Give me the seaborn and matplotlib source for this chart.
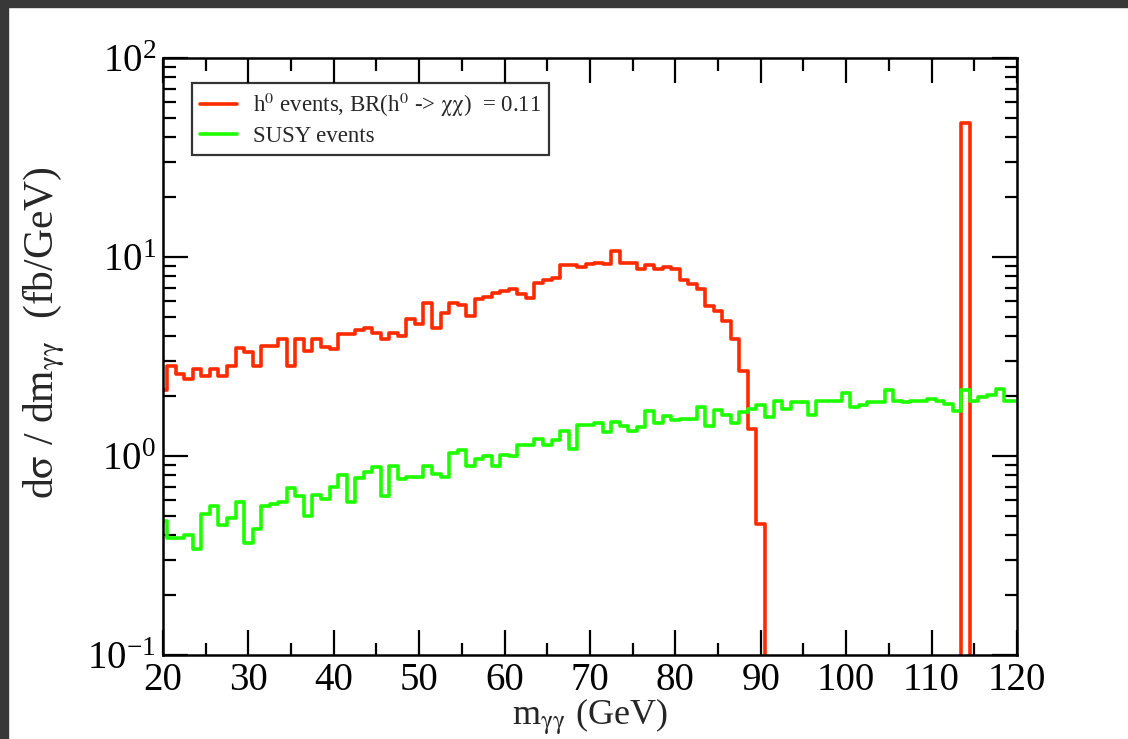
import matplotlib
matplotlib.use("Agg")
import matplotlib.pyplot as plt
from matplotlib.patches import Rectangle
from matplotlib.ticker import LogLocator, MultipleLocator, LogFormatterMathtext, NullFormatter
import seaborn as sns
import pandas as pd

# ---- data (bin centres in GeV, 1 GeV bins) ----
mass = list(range(20, 121))

higgs_events = [
    2.14,
    2.84, 2.58, 2.44, 2.75, 2.53, 2.75, 2.53, 2.84, 3.49, 3.32,
    2.84, 3.58, 3.58, 3.87, 2.84, 3.87, 3.38, 3.87, 3.54, 3.45,
    4.10, 4.10, 4.29, 4.39, 4.17, 3.87, 4.17, 4.02, 4.87, 4.60,
    5.90, 4.39, 5.26, 5.86, 5.73, 5.06, 6.14, 6.30, 6.62, 6.75,
    6.89, 6.50, 6.21, 7.43, 7.64, 7.87, 9.12, 9.12, 8.91, 9.19,
    9.37, 9.19, 10.7, 9.37, 9.37, 8.67, 9.12, 8.67, 8.91, 8.67,
    7.64, 7.30, 6.89, 5.68, 5.36, 4.78, 3.87, 2.68, 1.37, 0.457,
    0.001, 0.001, 0.001, 0.001, 0.001, 0.001, 0.001, 0.001, 0.001, 0.001,
    0.001, 0.001, 0.001, 0.001, 0.001, 0.001, 0.001, 0.001, 0.001, 0.001,
    0.001, 0.001, 0.001, 47.0, 0.001, 0.001, 0.001, 0.001, 0.001, 0.001,
]

susy_events = [
    0.471,
    0.388, 0.388, 0.399, 0.339, 0.514, 0.561, 0.448, 0.490, 0.590, 0.364,
    0.431, 0.561, 0.577, 0.590, 0.687, 0.630, 0.499, 0.635, 0.607, 0.695,
    0.802, 0.584, 0.771, 0.833, 0.877, 0.630, 0.893, 0.765, 0.786, 0.780,
    0.893, 0.811, 0.780, 1.035, 1.076, 0.887, 0.966, 1.00, 0.893, 1.01,
    1.00, 1.13, 1.13, 1.22, 1.13, 1.20, 1.33, 1.09, 1.43, 1.43,
    1.47, 1.32, 1.48, 1.42, 1.33, 1.40, 1.69, 1.47, 1.59, 1.51,
    1.54, 1.54, 1.76, 1.41, 1.71, 1.61, 1.47, 1.67, 1.73, 1.80,
    1.57, 1.90, 1.73, 1.87, 1.87, 1.61, 1.90, 1.88, 1.90, 2.08,
    1.76, 1.81, 1.87, 1.87, 2.14, 1.88, 1.87, 1.89, 1.90, 1.94,
    1.90, 1.83, 1.69, 2.14, 1.88, 1.98, 2.02, 2.16, 1.90, 1.90,
]

labels = [r"h$^{\mathrm{0}}$ events, BR(h$^{\mathrm{0}}$ -> $\mathrm{\chi\chi}$)  = 0.11",
          "SUSY events"]
colors = ["#ff2a00", "#1eff00"]
x_ticks = [20, 30, 40, 50, 60, 70, 80, 90, 100, 110, 120]

# ---- style ----
sns.set_style("ticks")
plt.rcParams["font.family"] = ["Liberation Serif", "DejaVu Serif"]
plt.rcParams["mathtext.fontset"] = "stix"

fig = plt.figure(figsize=(11.28, 7.39), dpi=100)
ax = fig.add_axes([0.1445, 0.1137, 0.757, 0.8078])

df_h = pd.DataFrame({"m": mass, "v": higgs_events})
df_s = pd.DataFrame({"m": mass, "v": susy_events})
sns.lineplot(data=df_h, x="m", y="v", estimator=None, drawstyle="steps-mid",
             color=colors[0], lw=2.6, label=labels[0], ax=ax)
sns.lineplot(data=df_s, x="m", y="v", estimator=None, drawstyle="steps-mid",
             color=colors[1], lw=2.6, label=labels[1], ax=ax)

ax.set_yscale("log")
ax.set_ylim(0.1, 100)
ax.set_xlim(20, 120)
ax.set_xticks(x_ticks)
ax.xaxis.set_minor_locator(MultipleLocator(5))
ax.yaxis.set_major_locator(LogLocator(base=10))
ax.yaxis.set_minor_locator(LogLocator(base=10, subs=range(2, 10)))
ax.yaxis.set_major_formatter(LogFormatterMathtext())
ax.yaxis.set_minor_formatter(NullFormatter())

ax.tick_params(which="both", direction="in", top=True, right=True, width=1.6, colors="black")
ax.tick_params(which="major", length=18, labelsize=28, pad=5)
ax.tick_params(which="minor", length=9)
for s in ax.spines.values():
    s.set_linewidth(1.8)
    s.set_color("black")

ax.set_xlabel(r"m$_{\mathrm{\gamma\gamma}}$ (GeV)", fontsize=26)
ax.set_ylabel(r"d$\mathrm{\sigma}$ / dm$_{\mathrm{\gamma\gamma}}$  (fb/GeV)", fontsize=30)
ax.xaxis.set_label_coords(0.5, -0.07)
ax.yaxis.set_label_coords(-0.112, 0.54)

leg = ax.legend(loc="upper left", bbox_to_anchor=(0.034, 0.958), fontsize=16.5,
                frameon=True, fancybox=False, handlelength=1.6, handletextpad=0.7,
                borderpad=0.35, labelspacing=0.3, borderaxespad=0)
leg.get_frame().set_edgecolor("black")
leg.get_frame().set_linewidth(1.6)
for line in leg.get_lines():
    line.set_linewidth(2.6)

# dark screenshot frame
fig.add_artist(Rectangle((0, 1 - 7 / 739), 1, 7 / 739, transform=fig.transFigure,
                         color="#383838", zorder=10))
fig.add_artist(Rectangle((0, 0), 8 / 1128, 1, transform=fig.transFigure,
                         color="#383838", zorder=10))

fig.savefig("out.png", dpi=100)
